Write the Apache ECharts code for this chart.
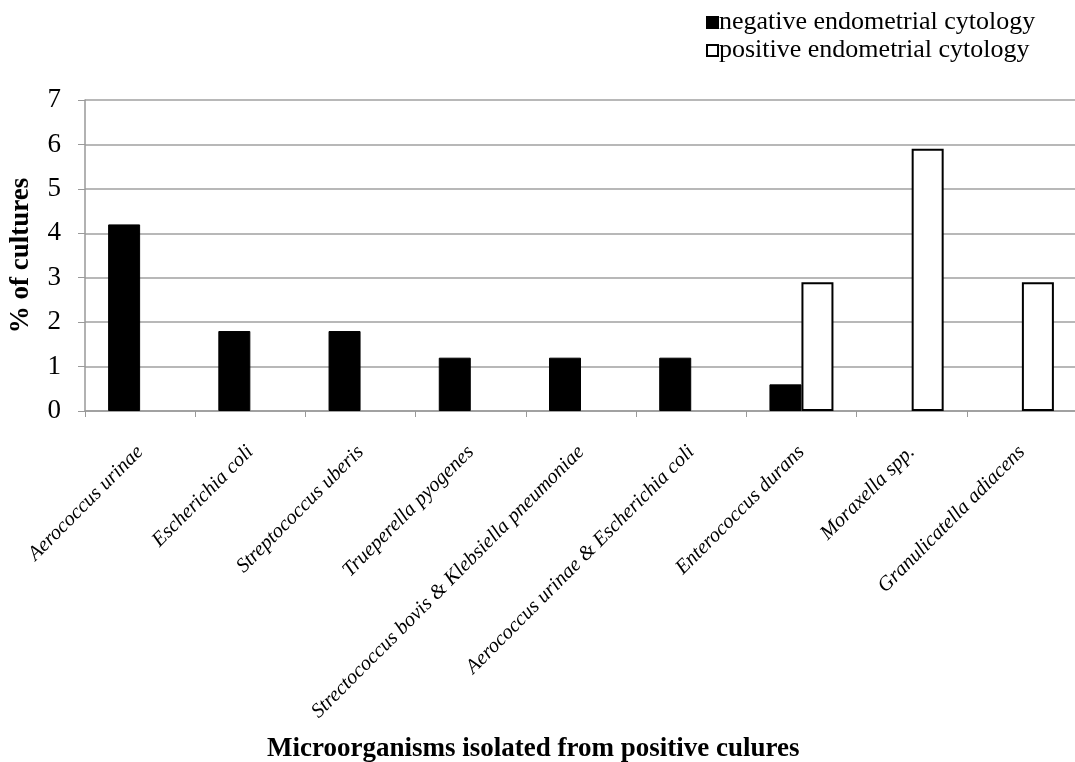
<!DOCTYPE html>
<html>
<head>
<meta charset="utf-8">
<script src="https://cdn.jsdelivr.net/npm/echarts@6/dist/echarts.min.js"></script>
<style>html,body{margin:0;padding:0;background:#fff;}#c{width:1075px;height:762px;}</style>
</head>
<body>
<div id="c"></div>
<script>
var categories = ['Aerococcus urinae','Escherichia coli','Streptococcus uberis','Trueperella pyogenes','Strectococcus bovis & Klebsiella pneumoniae','Aerococcus urinae & Escherichia coli','Enterococcus durans','Moraxella spp.','Granulicatella adiacens'];
var negativeValues = [4.2, 1.8, 1.8, 1.2, 1.2, 1.2, 0.6, null, null];
var positiveValues = [null, null, null, null, null, null, 2.9, 5.9, 2.9];
var yTicks = [0,1,2,3,4,5,6,7];

var font = '"Liberation Serif", "Times New Roman", serif';
var chart = echarts.init(document.getElementById('c'));
chart.setOption({
  animation: false,
  backgroundColor: '#fff',
  textStyle: {fontFamily: font, color: '#000'},
  title: {
    text: 'Microorganisms isolated from positive culures',
    left: 262, top: 731,
    textStyle: {fontFamily: font, fontSize: 27, fontWeight: 'bold', color: '#000'}
  },
  legend: {
    orient: 'vertical', left: 701, top: 4, itemGap: 1,
    itemWidth: 11, itemHeight: 11, icon: 'rect',
    textStyle: {fontFamily: font, fontSize: 26, lineHeight: 27, color: '#000', padding: [0,0,0,-4]},
    data: ['negative endometrial cytology','positive endometrial cytology']
  },
  grid: {left: 85, top: 100, right: -2, bottom: 351, containLabel: false, outerBoundsMode: 'none'},
  xAxis: {
    type: 'category', data: categories,
    axisLine: {lineStyle: {color: '#999', width: 1.5}},
    axisTick: {show: true, length: 6, lineStyle: {color: '#999'}},
    axisLabel: {rotate: 45, interval: 0, fontFamily: font, fontSize: 20.5, fontStyle: 'italic', color: '#000', margin: 38}
  },
  yAxis: {
    type: 'value', min: 0, max: 7, interval: 1,
    axisLine: {show: true, lineStyle: {color: '#999', width: 1.5}},
    axisTick: {show: true, length: 7, lineStyle: {color: '#999'}},
    splitLine: {lineStyle: {color: '#a0a0a0', width: 1.5}},
    axisLabel: {fontFamily: font, fontSize: 27, color: '#000', margin: 24,
      formatter: function(v){ return yTicks.indexOf(v) >= 0 ? String(v) : ''; }},
    name: '% of cultures', nameLocation: 'middle', nameGap: 50,
    nameTextStyle: {fontFamily: font, fontSize: 27, fontWeight: 'bold', color: '#000'}
  },
  series: [
    {name: 'negative endometrial cytology', type: 'bar', data: negativeValues,
     barWidth: 32, barGap: '0%',
     itemStyle: {color: '#000', borderColor: '#000', borderWidth: 1}},
    {name: 'positive endometrial cytology', type: 'bar', data: positiveValues,
     barWidth: 32, barGap: '0%',
     itemStyle: {color: '#fff', borderColor: '#000', borderWidth: 2}}
  ]
});
</script>
</body>
</html>
